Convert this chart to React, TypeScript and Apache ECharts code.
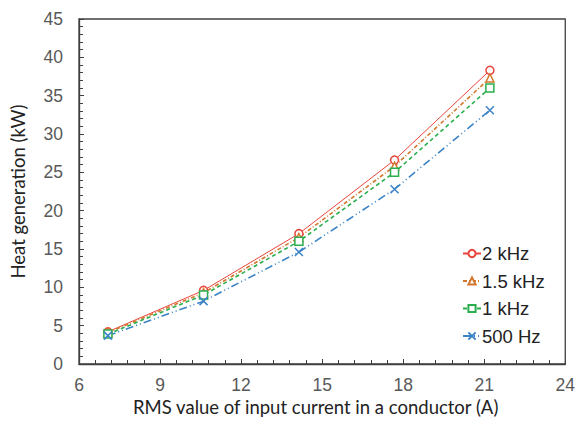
import React, { useEffect, useRef } from "react";
import * as echarts from "echarts";

const currents = [7.07, 10.61, 14.14, 17.68, 21.21];
const heat2k = [4.2, 9.6, 17.0, 26.6, 38.3];
const heat15k = [4.1, 9.3, 16.5, 25.8, 37.3];
const heat1k = [3.9, 9.0, 16.0, 25.0, 36.0];
const heat500 = [3.7, 8.2, 14.6, 22.8, 33.1];
const seriesNames = ["2 kHz", "1.5 kHz", "1 kHz", "500 Hz"];

const pairs = (ys: number[]) => currents.map((x, i) => [x, ys[i]]);

export default function App() {
  const ref = useRef<HTMLDivElement>(null);
  useEffect(() => {
    if (!ref.current) return;
    const chart = echarts.init(ref.current, undefined, { renderer: "svg" });
    const mk = (
      name: string,
      data: number[],
      color: string,
      symbol: string,
      symbolSize: number,
      width: number,
      dash: any
    ) => ({
      name,
      type: "line",
      data: pairs(data),
      symbol,
      symbolSize,
      showSymbol: true,
      itemStyle: { color: "#ffffff", borderColor: color, borderWidth: 1.5 },
      lineStyle: { color, width, type: dash },
      emphasis: { disabled: true },
    });
    chart.setOption({
      animation: false,
      grid: {
        left: 75,
        right: 9,
        top: 19,
        bottom: 63,
        show: true,
        borderColor: "#404040",
        borderWidth: 1.3,
      },
      xAxis: {
        type: "value",
        min: 6,
        max: 24,
        interval: 3,
        axisLine: { show: true, lineStyle: { color: "#404040", width: 1.3 } },
        axisTick: { show: true, inside: true, length: 5, lineStyle: { color: "#404040" } },
        minorTick: { show: true, splitNumber: 5, length: 4, lineStyle: { color: "#404040" } },
        splitLine: { show: false },
        axisLabel: {
          color: "#595959",
          fontFamily: "Liberation Sans, Arial, sans-serif",
          fontSize: 17.5,
          margin: 12,
        },
      },
      yAxis: {
        type: "value",
        min: 0,
        max: 45,
        interval: 5,
        name: "Heat generation (kW)",
        nameLocation: "middle",
        nameGap: 52,
        nameTextStyle: { color: "#222", fontFamily: "Lato, Open Sans, sans-serif", fontSize: 18.5 },
        axisLine: { show: true, lineStyle: { color: "#404040", width: 1.3 } },
        axisTick: { show: true, inside: true, length: 5, lineStyle: { color: "#404040" } },
        minorTick: { show: true, splitNumber: 5, length: 4, lineStyle: { color: "#404040" } },
        splitLine: { show: false },
        axisLabel: {
          color: "#595959",
          fontFamily: "Liberation Sans, Arial, sans-serif",
          fontSize: 17.5,
          margin: 16,
        },
      },
      legend: {
        orient: "vertical",
        left: 457,
        top: 239,
        itemGap: 8.5,
        itemWidth: 18,
        itemHeight: 9,
        data: seriesNames,
        textStyle: {
          color: "#222",
          fontFamily: "Liberation Sans, Arial, sans-serif",
          fontSize: 18.5,
          padding: [0, 0, 0, -4],
        },
      },
      graphic: [
        {
          type: "text",
          left: 133,
          top: 397,
          style: {
            text: "RMS value of input current in a conductor (A)",
            fill: "#222",
            font: "18.5px Lato, 'Open Sans', sans-serif",
          },
        },
      ],
      series: [
        mk(seriesNames[0], heat2k, "#E8453C", "circle", 8, 1, "solid"),
        mk(seriesNames[1], heat15k, "#D2782E", "triangle", 8, 1.6, [4, 2, 1, 2]),
        mk(seriesNames[2], heat1k, "#2BAE4E", "rect", 8, 1.6, [4, 3]),
        {
          ...mk(seriesNames[3], heat500, "#3B84C6", "path://M0,0L10,10M10,0L0,10", 8, 1.6, [8, 3, 1, 3, 1, 3]),
          itemStyle: { color: "none", borderColor: "#3B84C6", borderWidth: 1.5 },
        },
      ],
    });
    return () => chart.dispose();
  }, []);
  return (
    <div
      ref={ref}
      style={{ position: "absolute", left: 0, top: 0, width: 578, height: 427 }}
    />
  );
}
